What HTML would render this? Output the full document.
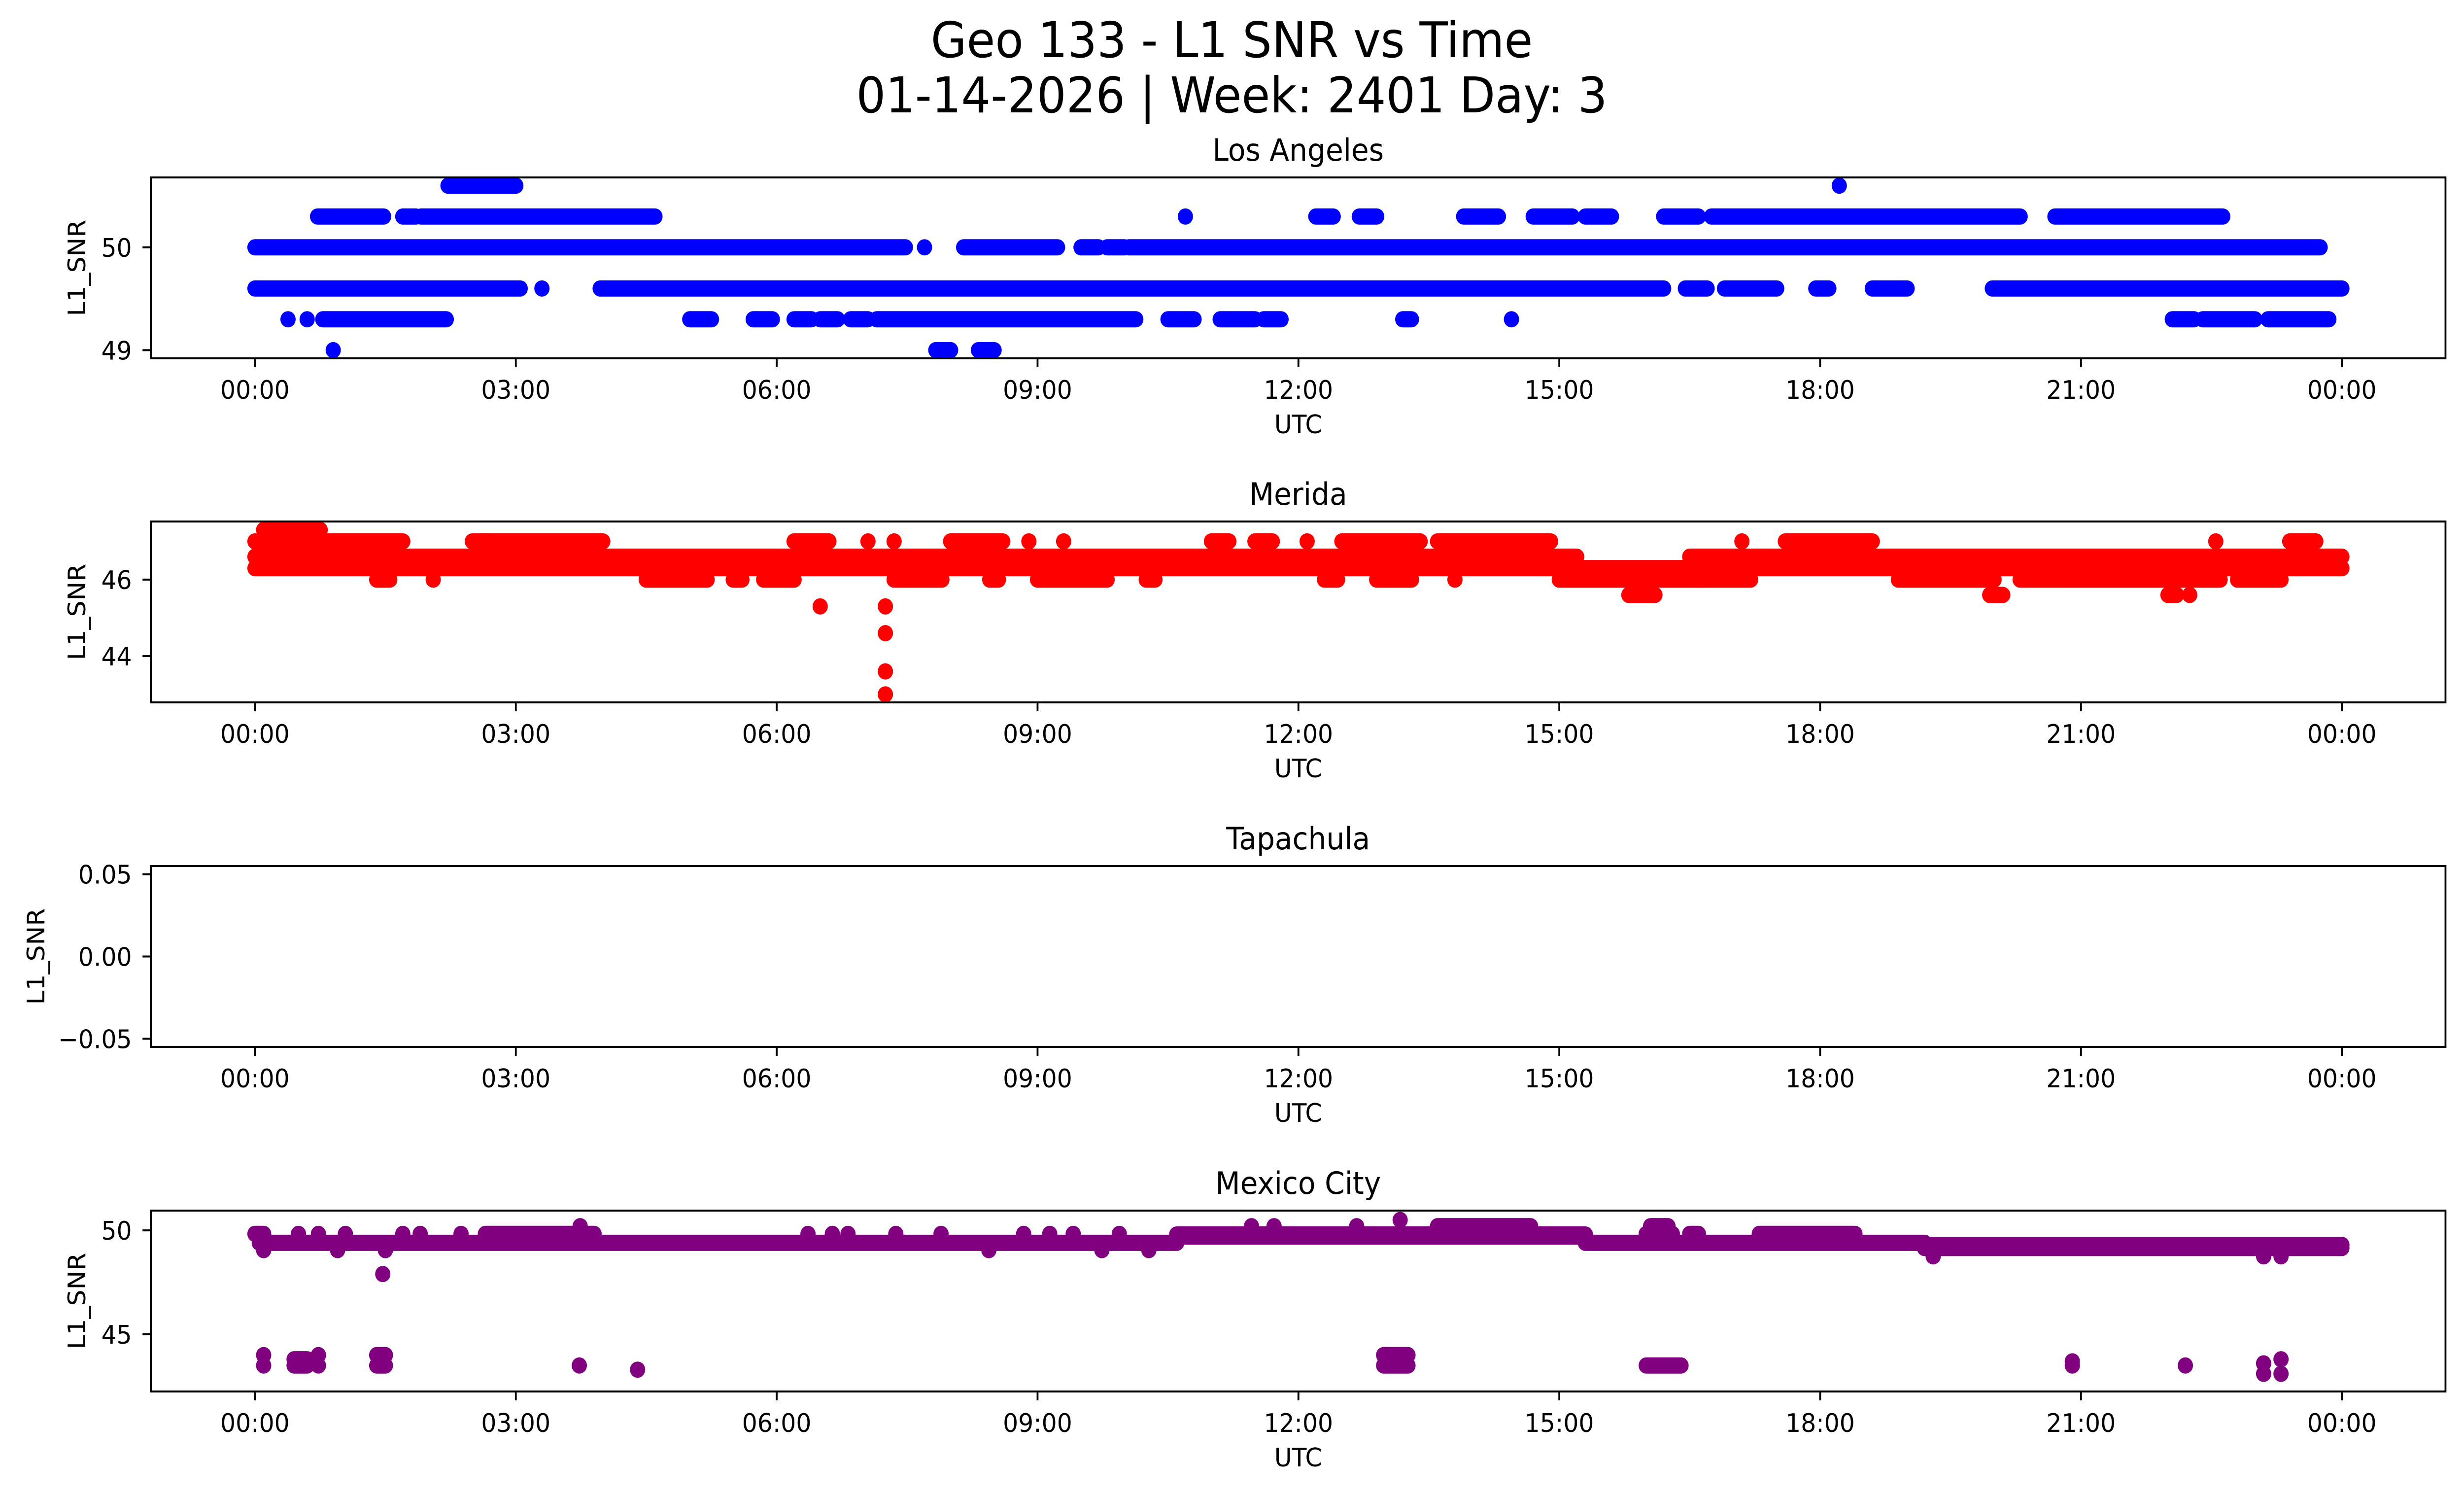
<!DOCTYPE html>
<html><head><meta charset="utf-8"><style>
html,body{margin:0;padding:0;background:#fff;overflow:hidden;width:100%;height:100%;}
svg{display:block;width:100vw;height:100vh;font-family:"DejaVu Sans","Liberation Sans",sans-serif;}
</style></head><body>
<svg id="fig" viewBox="0 0 5325 3033" preserveAspectRatio="none" xmlns="http://www.w3.org/2000/svg">
<rect width="5325" height="3033" fill="#fff"/>
<text x="2662" y="116" font-size="100" text-anchor="middle">Geo 133 - L1 SNR vs Time</text>
<text x="2662" y="228" font-size="100" text-anchor="middle">01-14-2026 | Week: 2401 Day: 3</text>
<g id="plots"></g>
</svg>
<script>
// ---- data (hours UTC, [start, end, L1 SNR]) ----
const xTickHours = [0,3,6,9,12,15,18,21,24];
const xTickLabels = ["00:00","03:00","06:00","09:00","12:00","15:00","18:00","21:00","00:00"];
const stationNames = ["Los Angeles","Merida","Tapachula","Mexico City"];
const stationColors = ["#0000ff","#ff0000","#800080","#800080"];

const laRuns = [
 [0,7.48,50.0],[7.7,7.7,50.0],[8.15,9.23,50.0],[9.5,9.7,50.0],[9.8,10.0,50.0],[10.05,23.75,50.0],
 [0,3.05,49.6],[3.3,3.3,49.6],[3.97,16.2,49.6],[16.45,16.7,49.6],[16.9,17.5,49.6],[17.95,18.1,49.6],[18.6,19.0,49.6],[19.98,24.0,49.6],
 [0.72,1.48,50.3],[1.7,1.85,50.3],[1.91,4.6,50.3],[10.7,10.7,50.3],[12.2,12.4,50.3],[12.7,12.9,50.3],[13.9,14.3,50.3],[14.7,15.15,50.3],[15.3,15.6,50.3],[16.2,16.6,50.3],[16.75,20.3,50.3],[20.7,22.63,50.3],
 [0.38,0.38,49.3],[0.6,0.6,49.3],[0.78,2.2,49.3],[5.0,5.25,49.3],[5.73,5.95,49.3],[6.2,6.4,49.3],[6.5,6.7,49.3],[6.85,7.05,49.3],[7.15,10.13,49.3],[10.5,10.8,49.3],[11.1,11.5,49.3],[11.6,11.8,49.3],[13.2,13.3,49.3],[14.45,14.45,49.3],[22.05,22.3,49.3],[22.4,23.0,49.3],[23.15,23.85,49.3],
 [2.22,3.0,50.6],[18.22,18.22,50.6],
 [0.9,0.9,49.0],[7.83,8.0,49.0],[8.32,8.5,49.0]
];
const meridaRuns = [
 [0,15.2,46.6],[16.5,24,46.6],[0,24,46.3],
 [0,0.6,47.0],[0.6,1.7,47.0],[2.5,2.7,47.0],[2.6,4.0,47.0],[6.2,6.6,47.0],[7.05,7.05,47.0],[7.35,7.35,47.0],[8.0,8.6,47.0],[8.9,8.9,47.0],[9.3,9.3,47.0],[11.0,11.2,47.0],[11.5,11.7,47.0],[12.1,12.1,47.0],[12.5,13.4,47.0],[13.6,14.9,47.0],[17.1,17.1,47.0],[17.6,18.6,47.0],[22.55,22.55,47.0],[23.4,23.7,47.0],
 [0.1,0.5,47.3],[0.55,0.75,47.3],
 [1.4,1.55,46.0],[2.05,2.05,46.0],[4.5,5.2,46.0],[5.5,5.6,46.0],[5.85,6.2,46.0],[7.35,7.9,46.0],[8.45,8.55,46.0],[9.0,9.8,46.0],[10.25,10.35,46.0],[12.3,12.45,46.0],[12.9,13.3,46.0],[13.8,13.8,46.0],[15.0,16.6,46.0],[16.6,17.2,46.0],[18.9,20.0,46.0],[20.3,22.6,46.0],[22.8,23.3,46.0],
 [15.8,16.1,45.6],[19.95,20.1,45.6],[22.0,22.1,45.6],[22.25,22.25,45.6],
 [6.5,6.5,45.3],[7.25,7.25,45.3],[7.25,7.25,44.6],[7.25,7.25,43.6],[7.25,7.25,43.0]
];
const tapachulaRuns = [];
const mexicoRuns = [
 [0.05,10.6,49.4],[15.3,19.2,49.4],[10.6,15.3,49.7],[10.6,15.3,49.8],[19.2,24.0,49.15],[19.2,24.0,49.3],
 [0.0,0.1,49.83],[0.5,0.5,49.83],[0.73,0.73,49.83],[1.04,1.04,49.83],[1.7,1.7,49.83],[1.9,1.9,49.83],[2.37,2.37,49.83],[2.65,3.9,49.83],
 [6.36,6.36,49.83],[6.64,6.64,49.83],[6.82,6.82,49.83],[7.37,7.37,49.83],[7.89,7.89,49.83],[8.84,8.84,49.83],[9.14,9.14,49.83],[9.41,9.41,49.83],[9.94,9.94,49.83],
 [16.0,16.3,49.83],[16.5,16.6,49.83],[17.3,18.4,49.83],
 [3.74,3.74,50.2],[11.46,11.46,50.2],[11.72,11.72,50.2],[12.67,12.67,50.2],[13.17,13.17,50.5],[13.6,14.67,50.2],[16.05,16.25,50.2],
 [0.1,0.1,49.05],[0.95,0.95,49.05],[1.5,1.5,49.05],[8.44,8.44,49.05],[9.74,9.74,49.05],[10.28,10.28,49.05],
 [19.3,19.3,48.75],[23.1,23.1,48.75],[23.3,23.3,48.75],
 [1.47,1.47,47.9],
 [0.1,0.1,44.0],[0.1,0.1,43.5],[0.45,0.6,43.8],[0.45,0.6,43.5],[0.73,0.73,44.0],[0.73,0.73,43.5],[1.4,1.5,44.0],[1.4,1.5,43.5],
 [3.73,3.73,43.5],[4.4,4.4,43.3],[12.98,13.26,44.0],[12.98,13.26,43.5],[16.0,16.4,43.5],[20.9,20.9,43.7],[20.9,20.9,43.5],[22.2,22.2,43.5],
 [23.1,23.1,43.6],[23.1,23.1,43.1],[23.3,23.3,43.8],[23.3,23.3,43.1]
];
const allRuns = [laRuns, meridaRuns, tapachulaRuns, mexicoRuns];
const yTickVals = [[49,50],[44,46],[-0.05,0,0.05],[45,50]];
const yTickLabels = [["49","50"],["44","46"],["\u22120.05","0.00","0.05"],["45","50"]];
const yLimits = [[48.92,50.68],[42.79,47.52],[-0.055,0.055],[42.25,50.95]];

// ---- layout ----
const AX_L = 326, AX_R = 5285, AX_H = 367;
const panelTops = [360, 1058, 1757, 2456];
const X0 = 551, PX_PER_H = 187.92;
const NS = "http://www.w3.org/2000/svg";
const root = document.getElementById('plots');
function mk(tag, attrs, parent) {
  const e = document.createElementNS(NS, tag);
  for (const k in attrs) e.setAttribute(k, attrs[k]);
  (parent || root).appendChild(e);
  return e;
}
function xScale(h) { return X0 + h * PX_PER_H; }

for (let p = 0; p < 4; p++) {
  const top = panelTops[p], bot = top + AX_H;
  const [lo, hi] = yLimits[p];
  const yScale = v => bot - (v - lo) / (hi - lo) * AX_H;
  const g = mk('g', {});
  
  

  const title = mk('text', {x: (AX_L + AX_R) / 2, y: top - 34, 'font-size': 62, 'text-anchor': 'middle'}, g);
  title.textContent = stationNames[p];
  
  

  const dots = mk('g', {}, g);
  
  
  for (const r of allRuns[p]) {
    const y = yScale(r[2]);
    const seg = mk('line', {x1: xScale(r[0]), x2: xScale(r[1]) + 0.01, y1: y, y2: y,
      stroke: stationColors[p], 'stroke-width': 33, 'stroke-linecap': 'round'}, dots);
    
    
  }

  const frame = mk('rect', {x: AX_L, y: top, width: AX_R - AX_L, height: AX_H, fill: 'none', stroke: '#000', 'stroke-width': 4}, g);
  
  

  for (let i = 0; i < xTickHours.length; i++) {
    const x = xScale(xTickHours[i]);
    const t = mk('line', {x1: x, x2: x, y1: bot, y2: bot + 18, stroke: '#000', 'stroke-width': 4}, g);
    
    
    const l = mk('text', {x: x, y: bot + 82, 'font-size': 52, 'text-anchor': 'middle'}, g);
    l.textContent = xTickLabels[i];
    
    
  }
  const xl = mk('text', {x: (AX_L + AX_R) / 2, y: bot + 152, 'font-size': 52, 'text-anchor': 'middle'}, g);
  xl.textContent = 'UTC';
  
  

  for (let i = 0; i < yTickVals[p].length; i++) {
    const y = yScale(yTickVals[p][i]);
    const t = mk('line', {x1: AX_L - 18, x2: AX_L, y1: y, y2: y, stroke: '#000', 'stroke-width': 4}, g);
    
    
    const l = mk('text', {x: 285, y: y + 19, 'font-size': 52, 'text-anchor': 'end'}, g);
    l.textContent = yTickLabels[p][i];
    
    
  }
  const lx = p === 2 ? 78 : 166, ly = top + AX_H / 2;
  const yl = mk('text', {x: lx, y: ly, 'font-size': 52, 'text-anchor': 'middle', 'dominant-baseline': 'central', transform: 'rotate(-90 ' + lx + ' ' + ly + ')'}, g);
  yl.textContent = 'L1_SNR';
  
  
}
</script>
</body></html>
